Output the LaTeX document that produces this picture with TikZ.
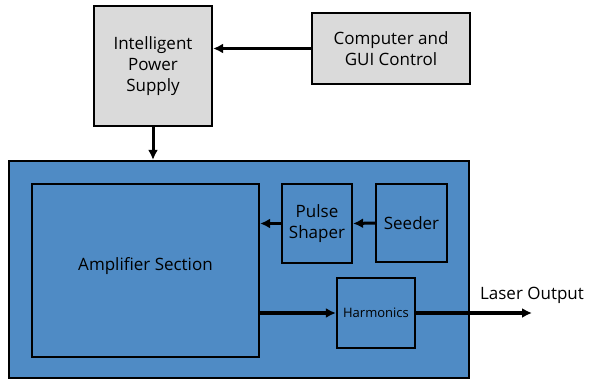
\documentclass[tikz,border=0pt]{standalone}
\usepackage{fontspec}
\setmainfont{Open Sans}
\usetikzlibrary{arrows.meta}
\definecolor{panelblue}{HTML}{4F8BC5}
\definecolor{boxgray}{HTML}{DADADA}
\tikzset{
  unit/.style={draw=black, line width=2.2pt, align=center, inner sep=0pt, font=\fontsize{17}{21}\selectfont},
  grayunit/.style={unit, fill=boxgray},
  blueunit/.style={unit, fill=panelblue},
  flow/.style={->, line width=3pt}
}
\begin{document}
\begin{tikzpicture}[x=1pt, y=-1pt, >={Latex[length=10pt,width=10pt]}]
    \useasboundingbox (0,0) rectangle (589,380);
    % upper row
    \node[grayunit, minimum width=118pt, minimum height=120pt] (supply) at (153,66) {Intelligent\\Power\\Supply};
    \node[grayunit, minimum width=158pt, minimum height=71pt] (gui) at (391,48.5) {Computer and\\GUI Control};

    % laser head
    \node[blueunit, minimum width=460pt, minimum height=217pt] (head) at (239,269.5) {};
    \node[blueunit, minimum width=227pt, minimum height=173pt, text depth=14pt] (amp) at (145.5,270.5) {Amplifier Section};
    \node[blueunit, minimum width=70pt, minimum height=79pt] (shaper) at (317,223.5) {Pulse\\Shaper};
    \node[blueunit, minimum width=71pt, minimum height=78pt] (seeder) at (411.5,223) {Seeder};
    \node[blueunit, minimum width=78pt, minimum height=70pt, font=\fontsize{13}{16}\selectfont] (harm) at (376,313) {Harmonics};
    \coordinate (out) at (532,313);

    % arrows
    \draw[flow] (gui.west) -- (gui.west -| supply.east);
    \draw[flow] (supply.south) -- (supply.south |- head.north);
    \draw[flow] (seeder.west) -- (shaper.east);
    \draw[flow] (shaper.west) -- (shaper.west -| amp.east);
    \draw[flow, line width=3.6pt] (harm.west -| amp.east) -- (harm.west);
    \draw[flow, line width=3.6pt] (harm.east) -- (out) node[above=4pt, font=\fontsize{17}{21}\selectfont] {Laser Output};
\end{tikzpicture}
\end{document}
